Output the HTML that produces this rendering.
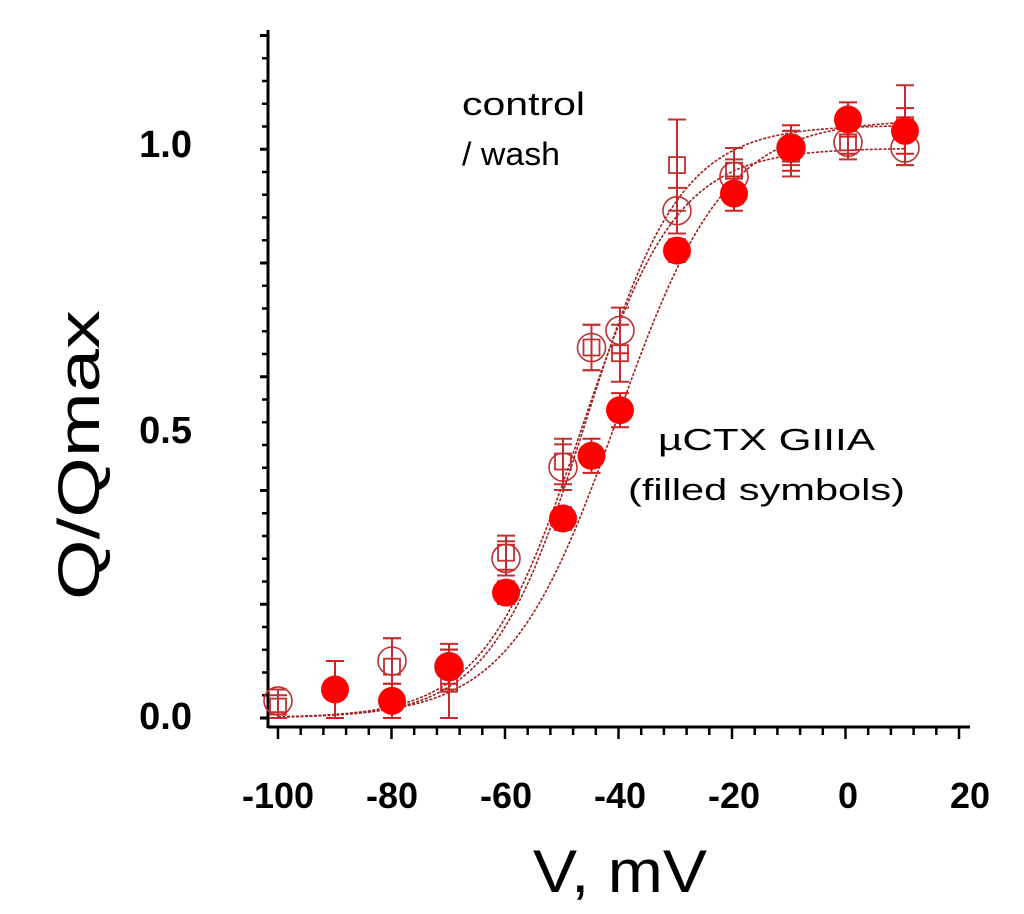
<!DOCTYPE html>
<html><head><meta charset="utf-8"><style>
html,body{margin:0;padding:0;background:#fff;}
svg{display:block;font-family:"Liberation Sans",sans-serif;}
</style></head><body>
<svg id="chart" width="1024" height="914" viewBox="0 0 1024 914" xmlns="http://www.w3.org/2000/svg">
<g id="axes"></g>
<g id="fits"></g>
<g id="marks"></g>
<g id="xlabels" font-size="36" font-weight="bold" text-anchor="middle"></g>
<text x="192" y="157" font-size="38" font-weight="bold" text-anchor="end">1.0</text>
<text x="192" y="443" font-size="38" font-weight="bold" text-anchor="end">0.5</text>
<text x="192" y="729" font-size="38" font-weight="bold" text-anchor="end">0.0</text>
<text x="533" y="892" font-size="60" textLength="174" lengthAdjust="spacingAndGlyphs">V, mV</text>
<text transform="translate(99,600) rotate(-90)" font-size="58" textLength="290" lengthAdjust="spacingAndGlyphs">Q/Qmax</text>
<text x="462" y="115" font-size="32" textLength="123" lengthAdjust="spacingAndGlyphs">control</text>
<text x="462" y="165" font-size="32" textLength="98" lengthAdjust="spacingAndGlyphs">/ wash</text>
<text x="658" y="450" font-size="31" textLength="217" lengthAdjust="spacingAndGlyphs">µCTX GIIIA</text>
<text x="628" y="500" font-size="31" textLength="277" lengthAdjust="spacingAndGlyphs">(filled symbols)</text>
</svg>
<script>
const xTickVals = [-100,-80,-60,-40,-20,0,20];
const xTickText = ["-100","-80","-60","-40","-20","0","20"];
const filledV = [-90,-80,-70,-60,-50,-45,-40,-30,-20,-10,0,10];
const filledQ = [0.05,0.03,0.09,0.22,0.35,0.46,0.54,0.82,0.92,1.0,1.05,1.03];
const filledErr = [0.05,0.03,0.03,0.02,0.02,0.03,0.03,0.02,0.03,0.04,0.03,0.04];
const circleV = [-100,-80,-70,-60,-50,-45,-40,-30,-20,-10,0,10];
const circleQ = [0.03,0.10,0.09,0.28,0.44,0.65,0.68,0.89,0.95,1.0,1.01,1.0];
const circleErr = [0.02,0.04,0.04,0.03,0.04,0.04,0.04,0.04,0.03,0.03,0.02,0.03];
const squareV = [-100,-80,-70,-60,-50,-45,-40,-30,-20,-10,0,10];
const squareQ = [0.02,0.09,0.06,0.29,0.45,0.65,0.64,0.97,0.96,0.99,1.01,1.04];
const squareErr = [0.02,0.05,0.06,0.03,0.04,0.04,0.05,0.08,0.04,0.04,0.03,0.07];
const fitHalf = [-47,-46,-40.5];
const fitSlope = [8.5,8.3,9.5];
const fitMax = [1.0,1.04,1.05];

const NS="http://www.w3.org/2000/svg";
const xs = v => 278 + (v + 100) * 5.7;
const ys = q => 718 - q * 570;
function mk(tag, attrs, parent){const e=document.createElementNS(NS,tag);for(const k in attrs)e.setAttribute(k,attrs[k]);parent.appendChild(e);return e;}
const axes=document.getElementById('axes');
let a=mk('line',{x1:268,y1:30,x2:268,y2:728,stroke:'#000','stroke-width':3},axes);


a=mk('line',{x1:268,y1:727,x2:970,y2:727,stroke:'#000','stroke-width':3},axes);


for(let i=0;i<31;i++){const y=718-i*22.75;const maj=i%5===0;const t=mk('line',{x1:maj?260:262,y1:y,x2:268,y2:y,stroke:'#000','stroke-width':maj?3:2.5},axes);

}
for(let i=0;i<31;i++){const x=278+i*22.7;const maj=i%5===0;const t=mk('line',{x1:x,y1:727,x2:x,y2:maj?739:735,stroke:'#000','stroke-width':2.5},axes);

}
const xl=document.getElementById('xlabels');
xTickVals.forEach((v,i)=>{const t=mk('text',{x:xs(v)-(i===6?-8:0),y:808},xl);t.textContent=xTickText[i];

});
const fits=document.getElementById('fits');
for(let f=0;f<3;f++){let d='';for(let v=-100;v<=10;v+=1){const q=fitMax[f]/(1+Math.exp((fitHalf[f]-v)/fitSlope[f]));d+=(v===-100?'M':'L')+xs(v).toFixed(1)+','+ys(q).toFixed(1);}
const p=mk('path',{d:d,fill:'none',stroke:'#a02020','stroke-width':1.6,'stroke-dasharray':'3,1.5'},fits);

}
const marks=document.getElementById('marks');
function err(x,q,e,col){const g=mk('g',{stroke:col,'stroke-width':2},marks);
mk('line',{x1:x,y1:ys(q+e),x2:x,y2:ys(q-e)},g);mk('line',{x1:x-9,y1:ys(q+e),x2:x+9,y2:ys(q+e)},g);mk('line',{x1:x-9,y1:ys(q-e),x2:x+9,y2:ys(q-e)},g);

}
circleV.forEach((v,i)=>{const x=xs(v),y=ys(circleQ[i]);err(x,circleQ[i],circleErr[i],'#c03030');
const c=mk('circle',{cx:x,cy:y,r:14,fill:'none',stroke:'#c03030','stroke-width':1.6},marks);

});
squareV.forEach((v,i)=>{const x=xs(v),y=ys(squareQ[i]);err(x,squareQ[i],squareErr[i],'#c03030');
const s=mk('rect',{x:x-8,y:y-8,width:16,height:16,fill:'none',stroke:'#c03030','stroke-width':1.8},marks);

});
filledV.forEach((v,i)=>{const x=xs(v),y=ys(filledQ[i]);err(x,filledQ[i],filledErr[i],'#d02020');
const c=mk('circle',{cx:x,cy:y,r:14,fill:'#ff0000'},marks);

});
</script>
</body></html>
